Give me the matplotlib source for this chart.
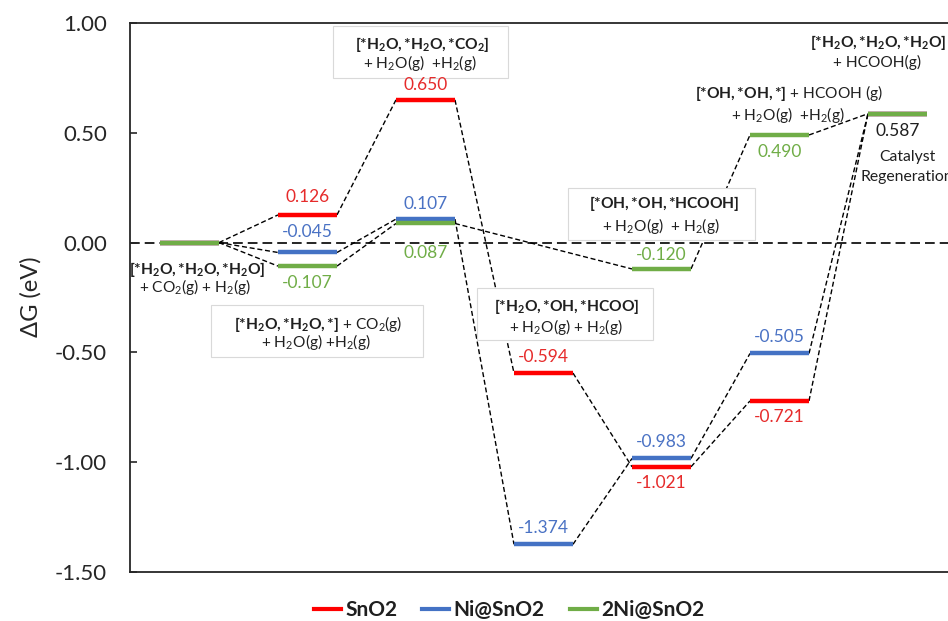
import matplotlib
matplotlib.use("Agg")
import matplotlib.pyplot as plt
from matplotlib.lines import Line2D
from matplotlib.patches import Rectangle
from matplotlib.ticker import FormatStrFormatter

# ---------------- data ----------------
series_names = ["SnO2", "Ni@SnO2", "2Ni@SnO2"]
stages = [0, 1, 2, 3, 4, 5, 6]
dg_sno2 = [0.0, 0.126, 0.650, -0.594, -1.021, -0.721, 0.587]
dg_ni = [0.0, -0.045, 0.107, -1.374, -0.983, -0.505, 0.587]
dg_2ni = [0.0, -0.107, 0.087, None, -0.120, 0.490, 0.587]
ytick_values = [-1.5, -1.0, -0.5, 0.0, 0.5, 1.0]

# which levels get a value label (None = no label), offset in pixels (+ above, - below)
label_off_sno2 = [None, 18, 15, 16, -16, -16, None]
label_off_ni = [None, 20, 15, 16, 16, 16, None]
label_off_2ni = [None, -17, -29.5, None, 14, -17, -17]

# state annotations: (bold part, regular part of line 1, line 2, x1, y1, x2, y2)
annotations = [
    (r"[{*}H_2O, {*}H_2O, {*}H_2O]", "", r"+ CO$_2$(g) + H$_2$(g)", 0.064, -0.122, 0.047, -0.204),
    (r"[{*}H_2O, {*}H_2O, {*}]", r" + CO$_2$(g)", r"+ H$_2$O(g) +H$_2$(g)", 1.089, -0.371, 1.072, -0.453),
    (r"[{*}H_2O, {*}H_2O, {*}CO_2]", "", r"+ H$_2$O(g)  +H$_2$(g)", 1.970, 0.904, 1.953, 0.818),
    (r"[{*}OH, {*}OH, {*}HCOOH]", "", r"+ H$_2$O(g)  + H$_2$(g)", 4.021, 0.180, 3.996, 0.076),
    (r"[{*}H_2O, {*}OH, {*}HCOO]", "", r"+ H$_2$O(g) + H$_2$(g)", 3.199, -0.289, 3.191, -0.384),
    (r"[{*}OH, {*}OH, {*}]", r" + HCOOH (g)", r"+ H$_2$O(g)  +H$_2$(g)", 5.081, 0.681, 5.072, 0.581),
    (r"[{*}H_2O, {*}H_2O, {*}H_2O]", "", r"+ HCOOH(g)", 5.835, 0.913, 5.826, 0.818),
]
# boxes behind some annotations: (x0, x1, y0, y1)
boxes = [
    (0.182, 1.979, -0.521, -0.284),
    (1.216, 2.699, 0.750, 0.986),
    (3.208, 4.792, 0.011, 0.248),
    (2.436, 3.928, -0.443, -0.206),
]

# ---------------- style ----------------
plt.rcParams.update({
    "font.family": ["Lato", "DejaVu Sans"],
    "mathtext.fontset": "custom",
    "mathtext.rm": "Lato",
    "mathtext.bf": "Lato:bold",
    "mathtext.it": "Lato:italic",
    "mathtext.sf": "Lato",
    "mathtext.default": "regular",
    "axes.unicode_minus": False,
    "lines.scale_dashes": False,
})

line_colors = ["#FF0000", "#4472C4", "#70AD47"]
text_colors = ["#E62B2B", "#4A72C4", "#70AD47"]
dark = "#1f1f1f"

W, H = 948, 621
fig = plt.figure(figsize=(W / 100, H / 100), dpi=100)

x_lo, x_hi = -0.504, 6.6
px_per_unit = 118
ax_left_px = 130
ax_right_px = 189.5 + x_hi * px_per_unit
ax_top_px, ax_bot_px = 23, 572
ax = fig.add_axes([ax_left_px / W, (H - ax_bot_px) / H,
                   (ax_right_px - ax_left_px) / W, (ax_bot_px - ax_top_px) / H])
ax.set_xlim(x_lo, x_hi)
ax.set_ylim(-1.5, 1.0)

hw = 0.25  # half width of a level

# zero line
ax.axhline(0, color="black", lw=1.2, dashes=(7, 3.6), zorder=1)

all_series = [dg_sno2, dg_ni, dg_2ni]
all_offsets = [label_off_sno2, label_off_ni, label_off_2ni]

# connectors
for vals in all_series:
    pts = [(s, v) for s, v in zip(stages, vals) if v is not None]
    for (s0, v0), (s1, v1) in zip(pts[:-1], pts[1:]):
        ax.plot([s0 + hw, s1 - hw], [v0, v1], color="black", lw=1.0,
                dashes=(3.6, 2.0), zorder=2)

# boxes
for (x0, x1, y0, y1) in boxes:
    ax.add_patch(Rectangle((x0, y0), x1 - x0, y1 - y0, facecolor="white",
                           edgecolor="#d9d9d9", lw=0.8, zorder=3))

# levels
for vals, c in zip(all_series, line_colors):
    for s, v in zip(stages, vals):
        if v is None:
            continue
        ax.hlines(v, s - hw, s + hw, color=c, lw=3.2, zorder=4)

# value labels
for vals, offs, tc in zip(all_series, all_offsets, text_colors):
    for s, v, o in zip(stages, vals, offs):
        if v is None or o is None:
            continue
        col = dark if s == stages[-1] else tc
        ax.annotate(f"{v:.3f}", xy=(s, v), xytext=(0, o * 0.72),
                    textcoords="offset points", ha="center", va="center",
                    fontsize=12.5, color=col, zorder=6)

# state annotations
for bold, reg, line2, x1, y1, x2, y2 in annotations:
    ax.text(x1, y1, r"$\mathbf{" + bold + "}$" + reg, ha="center", va="center",
            fontsize=11.2, color=dark, zorder=6)
    ax.text(x2, y2, line2, ha="center", va="center", fontsize=11.2,
            color=dark, zorder=6)

ax.text(6.081, 0.390, "Catalyst", ha="center", va="center", fontsize=11.3,
        color=dark, zorder=6)
ax.text(6.081, 0.299, "Regeneration", ha="center", va="center", fontsize=11.3,
        color=dark, zorder=6)

# axes styling
ax.set_yticks(ytick_values)
ax.yaxis.set_major_formatter(FormatStrFormatter("%.2f"))
ax.set_xticks([])
ax.tick_params(axis="y", direction="in", length=5, width=1.2,
               labelsize=16, pad=16.5, colors="#262626")
for sp in ax.spines.values():
    sp.set_linewidth(1.3)
    sp.set_color("#262626")

fig.text(31 / W, 1 - 297 / H, "ΔG (eV)", rotation=90, ha="center",
         va="center", fontsize=17, color="#262626")

handles = [Line2D([], [], color=c, lw=3) for c in line_colors]
leg = fig.legend(handles, series_names, loc="center",
                 bbox_to_anchor=(509 / W, 1 - 610 / H), ncol=3, frameon=False,
                 prop={"weight": "bold", "size": 15}, handlelength=1.3,
                 handletextpad=0.2, columnspacing=1.2)
for t in leg.get_texts():
    t.set_color(dark)

fig.savefig("out.png", dpi=100)
